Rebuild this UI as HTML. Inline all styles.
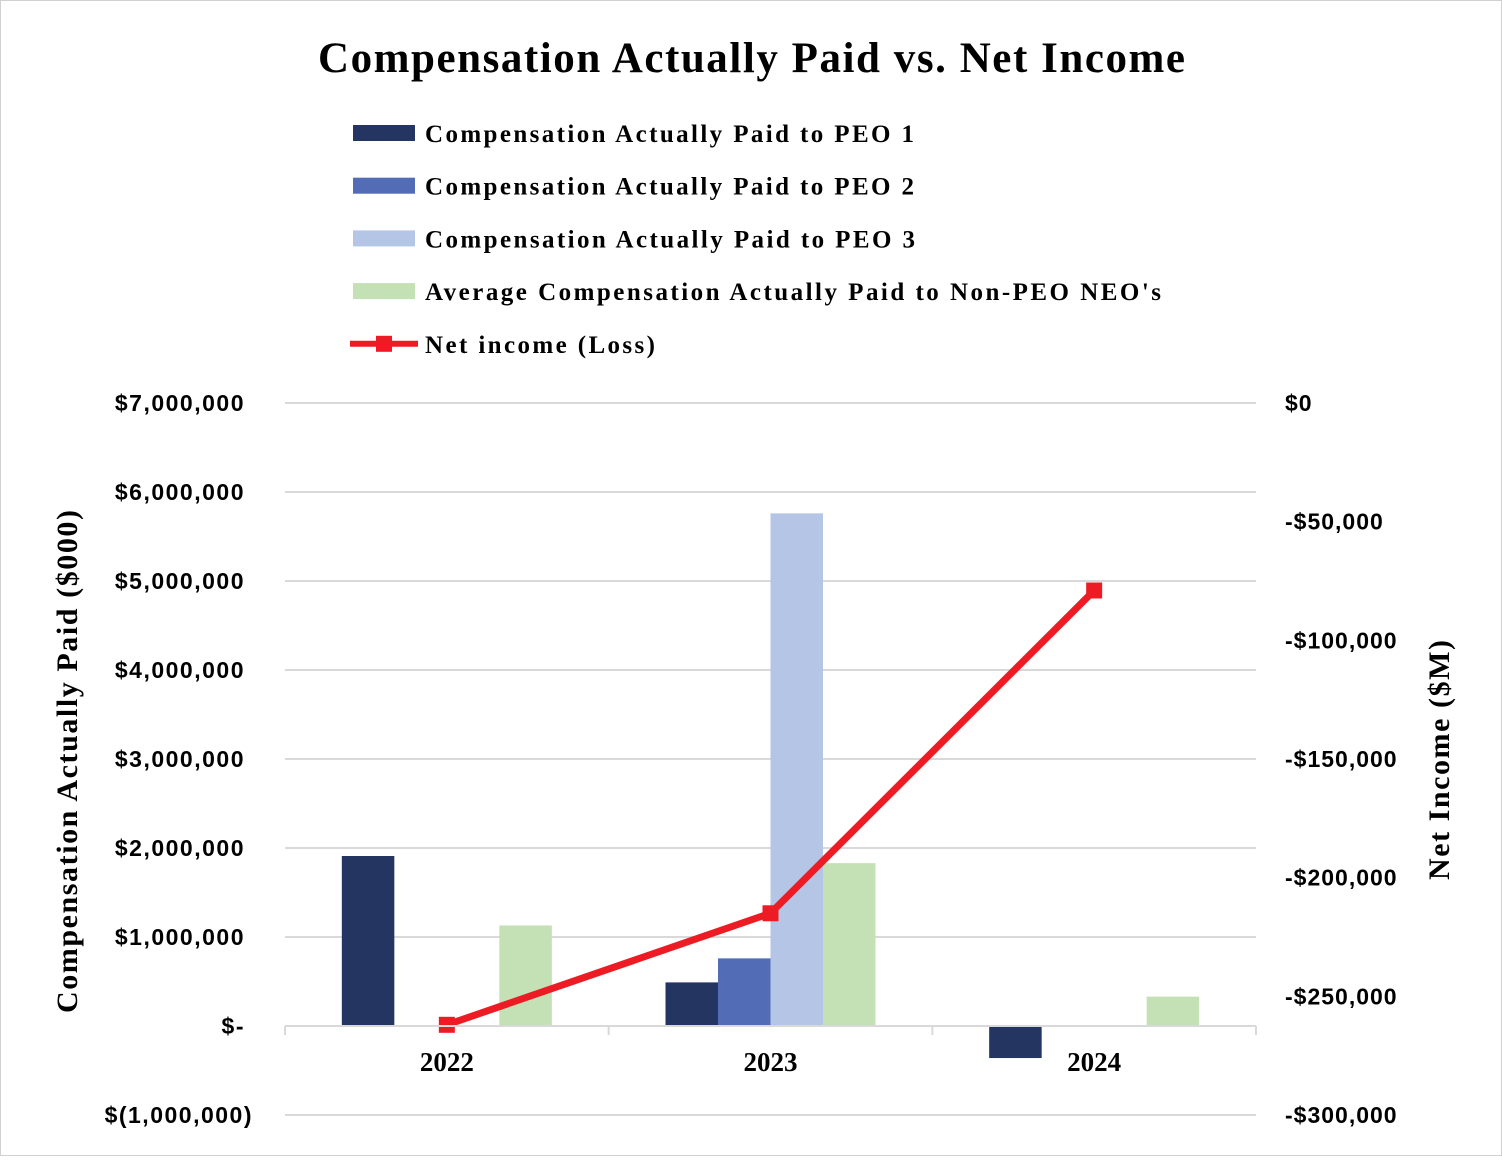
<!DOCTYPE html>
<html><head><meta charset="utf-8"><style>
body{margin:0;background:#fff}
svg text{font-family:"Liberation Serif",serif;font-weight:bold}
.st{font-family:"Liberation Sans",sans-serif}
</style></head><body>
<svg width="1502" height="1156" xmlns="http://www.w3.org/2000/svg">
<rect x="0.5" y="0.5" width="1501" height="1155" fill="#fff" stroke="#d0d0d0"/>
<text x="318" y="72" font-size="43" textLength="867" lengthAdjust="spacing">Compensation Actually Paid vs. Net Income</text>
<g id="legend"></g>
<g id="grid"></g><g id="bars"></g><g id="line"></g><g id="axes"></g>
<text transform="translate(77,1013) rotate(-90)" font-size="30" textLength="503" lengthAdjust="spacing">Compensation Actually Paid ($000)</text>
<text transform="translate(1449,880) rotate(-90)" font-size="30" textLength="240" lengthAdjust="spacing">Net Income ($M)</text>
</svg>
<script>
const categories=["2022","2023","2024"];
const peo1=[1910000,490000,-360000];
const peo2=[null,760000,null];
const peo3=[null,5760000,null];
const neo=[1130000,1830000,330000];
const netIncome=[-262000,-215000,-79000];
const leftTicks=[7000000,6000000,5000000,4000000,3000000,2000000,1000000,0,-1000000];
const leftLabels=["$7,000,000","$6,000,000","$5,000,000","$4,000,000","$3,000,000","$2,000,000","$1,000,000","$-","$(1,000,000)"];
const rightTicks=[0,-50000,-100000,-150000,-200000,-250000,-300000];
const rightLabels=["$0","-$50,000","-$100,000","-$150,000","-$200,000","-$250,000","-$300,000"];
const legendLabels=["Compensation Actually Paid to PEO 1","Compensation Actually Paid to PEO 2","Compensation Actually Paid to PEO 3","Average Compensation Actually Paid to Non-PEO NEO's","Net income (Loss)"];
const legendWidths=[489,489,490,736,230];
const NS="http://www.w3.org/2000/svg";
const X0=285,X1=1256,YT=403,YB=1115;
const yL=v=>YT+(7000000-v)/8000000*(YB-YT);
const yR=v=>YT+(0-v)/300000*(YB-YT);
const band=(X1-X0)/categories.length;
const xC=i=>X0+band*(i+0.5);
function mk(tag,at,parent){const e=document.createElementNS(NS,tag);for(const k in at)e.setAttribute(k,at[k]);document.getElementById(parent).appendChild(e);return e;}
leftTicks.forEach((t,i)=>{
 const l=mk("line",{x1:X0,x2:X1,y1:yL(t),y2:yL(t),stroke:"#d9d9d9","stroke-width":2},"grid");
 
 
 const tx=mk("text",{x:t<0?253:245,y:yL(t)+8,"text-anchor":"end","font-size":23,"letter-spacing":"1.5",class:"st"},"axes");
 tx.textContent=leftLabels[i];
 
 
});
rightTicks.forEach((t,i)=>{
 const tx=mk("text",{x:1285,y:yR(t)+8,"font-size":23,"letter-spacing":"1",class:"st"},"axes");
 tx.textContent=rightLabels[i];
 
 
});
const series=[[peo1,"#253561"],[peo2,"#526db5"],[peo3,"#b5c5e5"],[neo,"#c4e0b5"]];
const bw=52.5;
categories.forEach((c,i)=>{
 series.forEach((s,j)=>{
  const v=s[0][i]; if(v==null)return;
  const x=xC(i)+(j-2)*bw;
  const y0=yL(0),y1=yL(v);
  const r=mk("rect",{x:x,y:Math.min(y0,y1),width:bw,height:Math.abs(y1-y0),fill:s[1]},"bars");
  
  
 });
 const tx=mk("text",{x:xC(i),y:1071,"text-anchor":"middle","font-size":27},"axes");
 tx.textContent=c;
 
 
});
const ax=mk("line",{x1:X0,x2:X1,y1:yL(0),y2:yL(0),stroke:"#d9d9d9","stroke-width":2},"axes");


for(let i=0;i<=categories.length;i++){const tk=mk("line",{x1:X0+band*i,x2:X0+band*i,y1:yL(0),y2:yL(0)+9,stroke:"#d9d9d9","stroke-width":2},"axes");
 
 }
const pl=mk("polyline",{points:netIncome.map((v,i)=>xC(i)+","+yR(v)).join(" "),fill:"none",stroke:"#ed1c24","stroke-width":7},"line");


netIncome.forEach((v,i)=>{const m=mk("rect",{x:xC(i)-8,y:yR(v)-8,width:16,height:16,fill:"#ed1c24"},"line");
 
 });
const lc=["#253561","#526db5","#b5c5e5","#c4e0b5"];
legendLabels.forEach((t,i)=>{
 const y=133+i*52.7;
 if(i<4){const r=mk("rect",{x:353,y:y-8,width:62,height:16,fill:lc[i]},"legend");
  
  }
 else{const l=mk("line",{x1:350,x2:418,y1:y,y2:y,stroke:"#ed1c24","stroke-width":6},"legend");
  
  
  const m=mk("rect",{x:376,y:y-8,width:16,height:16,fill:"#ed1c24"},"legend");
  
  }
 const tx=mk("text",{x:425,y:y+9,"font-size":25,textLength:legendWidths[i],lengthAdjust:"spacing"},"legend");
 tx.textContent=t;
 
 
});
</script>
</body></html>
